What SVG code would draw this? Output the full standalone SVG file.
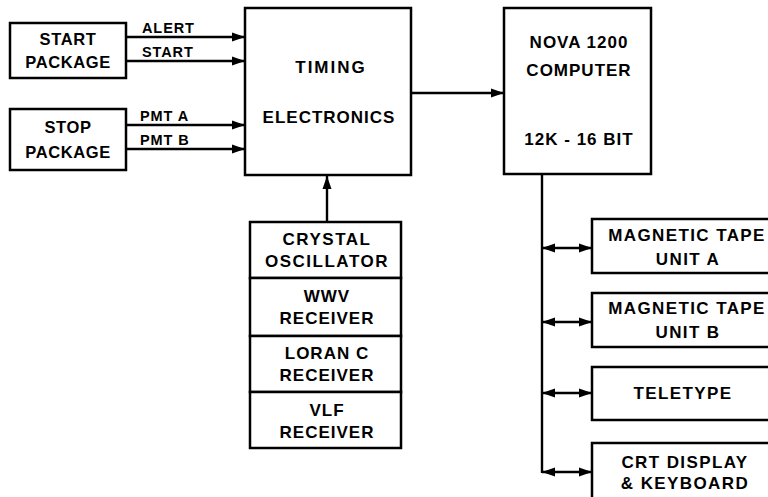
<svg xmlns="http://www.w3.org/2000/svg" width="768" height="497" viewBox="0 0 768 497">
<style>
.box{fill:#fff;stroke:#000;stroke-width:2.5}
.t{font-family:"Liberation Sans",Arial,sans-serif;font-weight:bold;font-size:17px;letter-spacing:1px;text-anchor:middle;fill:#000}
.s{font-size:16.5px;letter-spacing:0.6px}
.w{letter-spacing:1.4px}
.lbl{font-family:"Liberation Sans",Arial,sans-serif;font-weight:bold;font-size:14.5px;letter-spacing:0.9px;fill:#000}
.ln{fill:none;stroke:#000;stroke-width:2.4}
</style>
<defs>
<marker id="ah" markerUnits="userSpaceOnUse" markerWidth="15" markerHeight="11" refX="13" refY="5" orient="auto-start-reverse">
<path d="M0,0.5 L13,5 L0,9.5 z" fill="#000"/>
</marker>
</defs>
<rect width="768" height="497" fill="#fff"/>
<g id="connectors">
<line class="ln" x1="126" y1="37" x2="245" y2="37" marker-end="url(#ah)"/>
<line class="ln" x1="126" y1="61" x2="245" y2="61" marker-end="url(#ah)"/>
<line class="ln" x1="126" y1="125" x2="245" y2="125" marker-end="url(#ah)"/>
<line class="ln" x1="126" y1="149" x2="245" y2="149" marker-end="url(#ah)"/>
<line class="ln" x1="411" y1="93" x2="504" y2="93" marker-end="url(#ah)"/>
<line class="ln" x1="327" y1="222" x2="327" y2="176" marker-end="url(#ah)"/>
<line class="ln" x1="542" y1="174" x2="542" y2="473"/>
<line class="ln" x1="542" y1="248" x2="592" y2="248" marker-start="url(#ah)" marker-end="url(#ah)"/>
<line class="ln" x1="542" y1="322" x2="592" y2="322" marker-start="url(#ah)" marker-end="url(#ah)"/>
<line class="ln" x1="542" y1="393" x2="592" y2="393" marker-start="url(#ah)" marker-end="url(#ah)"/>
<line class="ln" x1="542" y1="472" x2="592" y2="472" marker-start="url(#ah)" marker-end="url(#ah)"/>
<text class="lbl" x="142" y="33">ALERT</text>
<text class="lbl" x="142" y="57">START</text>
<text class="lbl" x="140" y="121">PMT A</text>
<text class="lbl" x="140" y="145">PMT B</text>
</g>
<g id="start-package">
<rect class="box" x="10" y="23" width="116" height="55"/>
<text class="t s" x="68" y="45">START</text>
<text class="t s" x="68" y="68">PACKAGE</text>
</g>
<g id="stop-package">
<rect class="box" x="10" y="109" width="116" height="61"/>
<text class="t s" x="68" y="133">STOP</text>
<text class="t s" x="68" y="158">PACKAGE</text>
</g>
<g id="timing">
<rect class="box" x="245" y="8" width="166" height="167"/>
<text class="t" x="331" y="73" style="letter-spacing:2px">TIMING</text>
<text class="t" x="329" y="123">ELECTRONICS</text>
</g>
<g id="nova">
<rect class="box" x="504" y="8" width="147" height="166"/>
<text class="t" x="579" y="48">NOVA 1200</text>
<text class="t" x="579" y="76">COMPUTER</text>
<text class="t" x="579" y="145">12K - 16 BIT</text>
</g>
<g id="crystal">
<rect class="box" x="250" y="222" width="151" height="56"/>
<text class="t" x="327" y="245" style="letter-spacing:1.5px">CRYSTAL</text>
<text class="t" x="327" y="267" style="letter-spacing:1.5px">OSCILLATOR</text>
</g>
<g id="wwv">
<rect class="box" x="250" y="278" width="151" height="58"/>
<text class="t" x="327" y="302">WWV</text>
<text class="t" x="327" y="324">RECEIVER</text>
</g>
<g id="loran">
<rect class="box" x="250" y="336" width="151" height="56"/>
<text class="t" x="327" y="359">LORAN C</text>
<text class="t" x="327" y="381">RECEIVER</text>
</g>
<g id="vlf">
<rect class="box" x="250" y="392" width="151" height="56"/>
<text class="t" x="327" y="416">VLF</text>
<text class="t" x="327" y="438">RECEIVER</text>
</g>
<g id="tape-a">
<rect class="box" x="592" y="219" width="190" height="54"/>
<text class="t w" x="687" y="241">MAGNETIC TAPE</text>
<text class="t w" x="688" y="265">UNIT A</text>
</g>
<g id="tape-b">
<rect class="box" x="592" y="293" width="190" height="54"/>
<text class="t w" x="687" y="314">MAGNETIC TAPE</text>
<text class="t w" x="688" y="338">UNIT B</text>
</g>
<g id="teletype">
<rect class="box" x="592" y="367" width="190" height="53"/>
<text class="t w" x="683" y="399">TELETYPE</text>
</g>
<g id="crt">
<rect class="box" x="592" y="443" width="190" height="60"/>
<text class="t w" x="685" y="468">CRT DISPLAY</text>
<text class="t w" x="685" y="489">&amp; KEYBOARD</text>
</g>
</svg>
